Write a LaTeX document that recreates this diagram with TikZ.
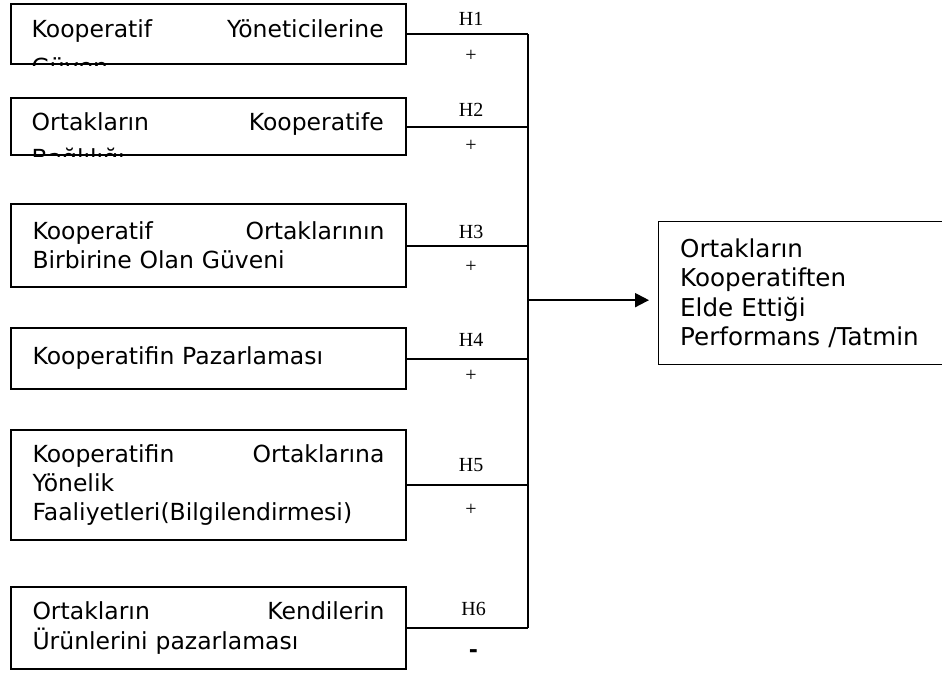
\documentclass[tikz,border=0pt]{standalone}
\usepackage{fontspec}
\setmainfont{DejaVu Sans}
\newfontfamily\timesfont{Liberation Serif}
\usetikzlibrary{arrows.meta}

\begin{document}
\begin{tikzpicture}[x=1pt,y=-1pt]
  \tikzset{box/.style={draw,line width=2pt,minimum width=395pt},
    boxtext/.style={anchor=north west,text width=352pt,inner xsep=21.5pt,
      inner ysep=0pt,align=left,font=\fontsize{23.5}{29.3}\selectfont},
    link/.style={line width=2pt},
    hyp/.style={font=\timesfont\fontsize{20}{24}\selectfont,inner sep=0pt}}

  \useasboundingbox (0,0) rectangle (942,673);

  %% The first two boxes are too short for their text, so the second
  %% line is cut off by the frame
  \node[box,boxtext,minimum height=60pt] (b1) at (10,3) {};
  \begin{scope}
    \clip (b1.south west) rectangle (b1.north east);
    \node[boxtext,anchor=base west] (t1) at ([yshift=-34pt]b1.north west)
      {Kooperatif\hspace{\fill}Yöneticilerine\\[9pt]Güven};
  \end{scope}
  \node[box,boxtext,minimum height=57pt] (b2) at (10,97) {};
  \begin{scope}
    \clip (b2.south west) rectangle (b2.north east);
    \node[boxtext,anchor=base west] (t2) at ([yshift=-33pt]b2.north west)
      {Ortakların\hspace{\fill}Kooperatife\\[7pt]Bağlılığı};
  \end{scope}

  %% The other boxes
  \node[box,boxtext,minimum height=83pt] (b3) at (10,203)
    {Kooperatif\hspace{\fill}Ortaklarının\\Birbirine Olan Güveni};
  \node[box,boxtext,minimum height=61pt] (b4) at (10,327)
    {Kooperatifin Pazarlaması};
  \node[box,boxtext,minimum height=110pt] (b5) at (10,429)
    {Kooperatifin\hspace{\fill}Ortaklarına\\Yönelik\\Faaliyetleri(Bilgilendirmesi)};
  \node[box,boxtext,minimum height=82pt] (b6) at (10,586)
    {Ortakların\hspace{\fill}Kendilerin\\Ürünlerini pazarlaması};

  \node[draw,line width=1.3pt,boxtext,text width=262pt,minimum height=143pt,
    font=\fontsize{24.6}{29.3}\selectfont] (out) at (658,221)
    {Ortakların\\Kooperatiften\\Elde Ettiği\\Performans /Tatmin};

  %% Collecting line and the arrow to the result
  \coordinate (bus) at (528,0);
  \draw[link] (b1.east -| bus) -- (b6.east -| bus);
  \coordinate (target) at ([yshift=-7pt]out.west);
  \draw[link,-{Triangle[length=14pt,width=14pt]},shorten >=9pt]
    (bus |- target) -- (target);

  %% Hypotheses
  \foreach \n/\up/\down in {1/15/22, 2/17/19, 3/14/21, 4/19/17, 5/20/25} {
    \draw[link] (b\n.east) -- (b\n.east -| bus)
      node[hyp,pos=0.53,yshift=\up pt] (h\n) {H\n}
      node[hyp,pos=0.53,yshift=-\down pt] (s\n) {+};
  }
  \draw[link] (b6.east) -- (b6.east -| bus)
    node[hyp,pos=0.55,yshift=19pt] (h6) {H6}
    node[pos=0.55,yshift=-26pt,inner sep=0pt,font=\fontsize{22}{24}\selectfont\bfseries] (s6) {-};

\end{tikzpicture}
\end{document}
